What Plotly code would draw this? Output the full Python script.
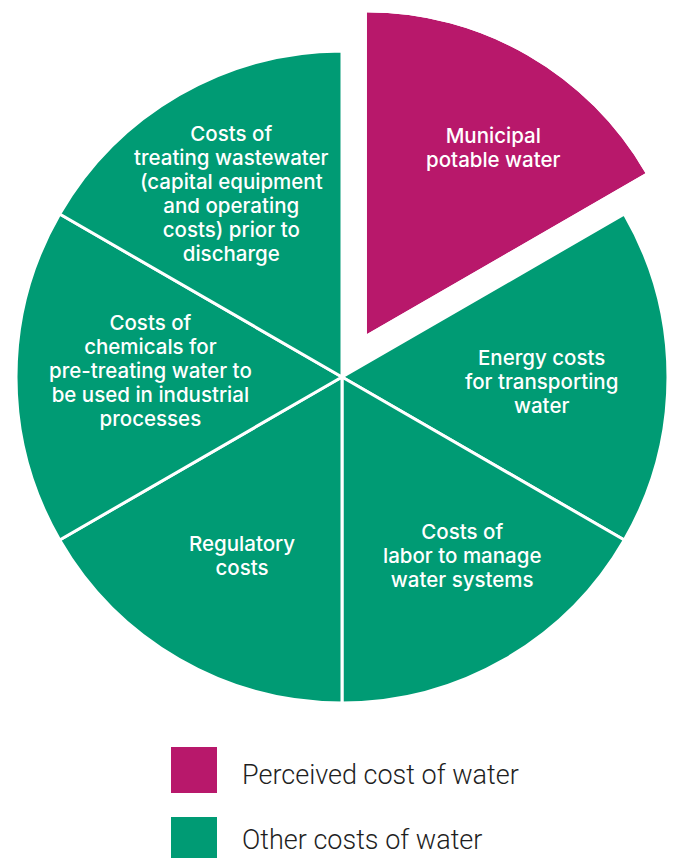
import plotly.graph_objects as go

# ---- data ----
slice_labels = [
    "Municipal potable water",
    "Energy costs for transporting water",
    "Costs of labor to manage water systems",
    "Regulatory costs",
    "Costs of chemicals for pre-treating water to be used in industrial processes",
    "Costs of treating wastewater (capital equipment and operating costs) prior to discharge",
]
slice_text = [
    "Municipal<br>potable water",
    "Energy costs<br>for transporting<br>water",
    "Costs of<br>labor to manage<br>water systems",
    "Regulatory<br>costs",
    "Costs of<br>chemicals for<br>pre-treating water to<br>be used in industrial<br>processes",
    "Costs of<br>treating wastewater<br>(capital equipment<br>and operating<br>costs) prior to<br>discharge",
]
slice_values = [1, 1, 1, 1, 1, 1]
slice_group = ["perceived", "other", "other", "other", "other", "other"]
legend_labels = ["Perceived cost of water", "Other costs of water"]

# ---- styling / layout constants ----
MAGENTA = "#B8186B"
GREEN = "#009B74"
W, H = 676, 858
LABEL_FONT = "Inter"
LABEL_PX = 20.5          # glyph size of slice labels
LINE_PX = 24             # baseline-to-baseline distance of slice labels
# label block centres (pixels, from top-left), one per slice
label_centres = [(494, 147), (541.5, 381), (462, 555.5), (242, 555), (150.5, 371), (231, 193.5)]


def px(x):
    return x / W


def py(y):
    return 1 - y / H


colors_main = ["rgba(0,0,0,0)" if g == "perceived" else GREEN for g in slice_group]
line_w = [0 if g == "perceived" else 3 for g in slice_group]

fig = go.Figure()

# Main pie (other costs of water); perceived slice left empty here
fig.add_trace(go.Pie(
    values=slice_values,
    labels=slice_labels,
    textinfo="none",
    marker=dict(colors=colors_main, line=dict(color="white", width=line_w)),
    sort=False,
    direction="clockwise",
    rotation=0,
    hoverinfo="label",
    showlegend=False,
    domain=dict(x=[px(16), px(668)], y=[py(703), py(51)]),
))

# Pulled-out slice (perceived cost) drawn on a sector-only polar subplot
total = sum(slice_values)
starts = []
acc = 0
for v in slice_values:
    starts.append(acc)
    acc += v
k = slice_group.index("perceived")
width_deg = 360 * slice_values[k] / total
theta_mid = 360 * starts[k] / total + width_deg / 2

fig.add_trace(go.Barpolar(
    r=[1],
    theta=[theta_mid],
    width=[width_deg],
    marker=dict(color=MAGENTA, line=dict(width=0)),
    hovertext=[slice_labels[k]],
    hoverinfo="text",
    showlegend=False,
    subplot="polar",
))

sector_lo = 90 - 360 * (starts[k] + slice_values[k]) / total
sector_hi = 90 - 360 * starts[k] / total
fig.update_layout(
    polar=dict(
        domain=dict(x=[px(366.7), px(645.6)], y=[py(334.3), py(12.3)]),
        sector=[sector_lo, sector_hi],
        bgcolor="rgba(0,0,0,0)",
        angularaxis=dict(visible=False, rotation=90, direction="clockwise", showgrid=False),
        radialaxis=dict(visible=False, range=[0, 1], showgrid=False),
        bargap=0,
    )
)


def label_html(t):
    return "<br>".join(
        "<span style='font-size:%spx'>%s</span>" % (LABEL_PX, ln) for ln in t.split("<br>")
    )


annotations = []
for t, (cx, cy) in zip(slice_text, label_centres):
    annotations.append(dict(
        text=label_html(t), x=px(cx), y=py(cy), xref="paper", yref="paper",
        xanchor="center", yanchor="middle", align="center", showarrow=False,
        font=dict(family=LABEL_FONT, size=LINE_PX / 1.3, color="white", weight=500),
    ))

# legend (swatches + labels)
shapes = []
leg_colors = [MAGENTA, GREEN]
leg_top = [747, 817]
leg_text_mid = [775, 840]
for lab, col, top, mid in zip(legend_labels, leg_colors, leg_top, leg_text_mid):
    shapes.append(dict(type="rect", xref="paper", yref="paper",
                       x0=px(171), x1=px(217), y0=py(top + 46), y1=py(top),
                       fillcolor=col, line=dict(width=0)))
    annotations.append(dict(text=lab, x=px(240), y=py(mid), xref="paper", yref="paper",
                            xanchor="left", yanchor="middle", showarrow=False,
                            font=dict(family="Roboto", size=27, color="#1f1f1f", weight=300)))

fig.update_layout(
    width=W, height=H,
    margin=dict(l=0, r=0, t=0, b=0),
    paper_bgcolor="white",
    plot_bgcolor="white",
    annotations=annotations,
    shapes=shapes,
    showlegend=False,
)

fig.write_html(
    "out.html",
    config={"displayModeBar": False},
    post_script="document.body.style.margin='0px';",
)
